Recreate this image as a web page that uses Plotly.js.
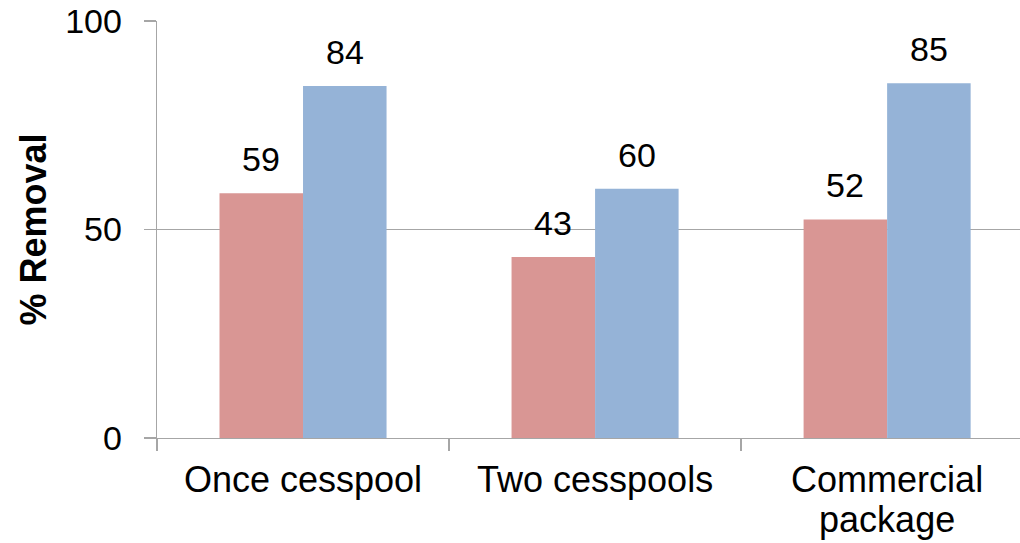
<!DOCTYPE html>
<html>
<head>
<meta charset="utf-8">
<script src="https://cdn.plot.ly/plotly-3.0.1.min.js"></script>
<style>html,body{margin:0;padding:0;background:#fff;}#chart{width:1020px;height:543px;}</style>
</head>
<body>
<div id="chart"></div>
<script>
const categories = ["Once cesspool", "Two cesspools", "Commercial package"];
const tickLabels = ["Once cesspool", "Two cesspools", "Commercial<br>package"];
const seriesA = [58.7, 43.4, 52.4];
const seriesB = [84.4, 59.8, 85.1];
const labelsA = ["59", "43", "52"];
const labelsB = ["84", "60", "85"];
const yTicks = [0, 50, 100];

const colorA = "#D99694";
const colorB = "#95B3D7";
const axisGrey = "#A6A6A6";
const fontFam = "Liberation Sans, Arial, sans-serif";

const traces = [
  {type: "bar", x: categories, y: seriesA, marker: {color: colorA}, hoverinfo: "none"},
  {type: "bar", x: categories, y: seriesB, marker: {color: colorB}, hoverinfo: "none"}
];

const annotations = [];
categories.forEach((c, i) => {
  annotations.push({x: c, y: seriesA[i], text: labelsA[i], xref: "x", yref: "y", showarrow: false,
    xanchor: "center", yanchor: "bottom", xshift: -41.75, yshift: 13,
    font: {family: fontFam, size: 34, color: "#000"}});
  annotations.push({x: c, y: seriesB[i], text: labelsB[i], xref: "x", yref: "y", showarrow: false,
    xanchor: "center", yanchor: "bottom", xshift: 41.75, yshift: 13,
    font: {family: fontFam, size: 34, color: "#000"}});
});

const layout = {
  width: 1020, height: 543,
  margin: {l: 157, r: 0, t: 21, b: 105, pad: 0},
  paper_bgcolor: "#fff", plot_bgcolor: "#fff",
  showlegend: false,
  barmode: "group", bargap: 0.428, bargroupgap: 0,
  font: {family: fontFam, color: "#000"},
  xaxis: {
    type: "category",
    range: [-0.5, 2.455],
    tickvals: categories,
    ticktext: tickLabels.map(t => '<span style="font-size:36px">' + t + '</span>'),
    tickfont: {family: fontFam, size: 31, color: "#000"},
    ticks: "outside", tickson: "boundaries", ticklen: 12, tickwidth: 1.3, tickcolor: axisGrey,
    showline: true, linecolor: axisGrey, linewidth: 1.3,
    showgrid: false, zeroline: false,
    ticklabelstandoff: 15
  },
  yaxis: {
    range: [0, 100],
    tickvals: yTicks,
    ticktext: yTicks.map(String),
    tickfont: {family: fontFam, size: 34, color: "#000"},
    ticks: "outside", ticklen: 12, tickwidth: 1.3, tickcolor: axisGrey,
    showline: true, linecolor: axisGrey, linewidth: 1.3,
    showgrid: true, gridcolor: axisGrey, gridwidth: 1.3,
    zeroline: false,
    ticklabelstandoff: 15,
    title: {text: "<b>% Removal</b>", font: {family: fontFam, size: 36, color: "#000"}, standoff: 7}
  },
  annotations: annotations
};

Plotly.newPlot("chart", traces, layout, {staticPlot: true, displayModeBar: false});
</script>
</body>
</html>
